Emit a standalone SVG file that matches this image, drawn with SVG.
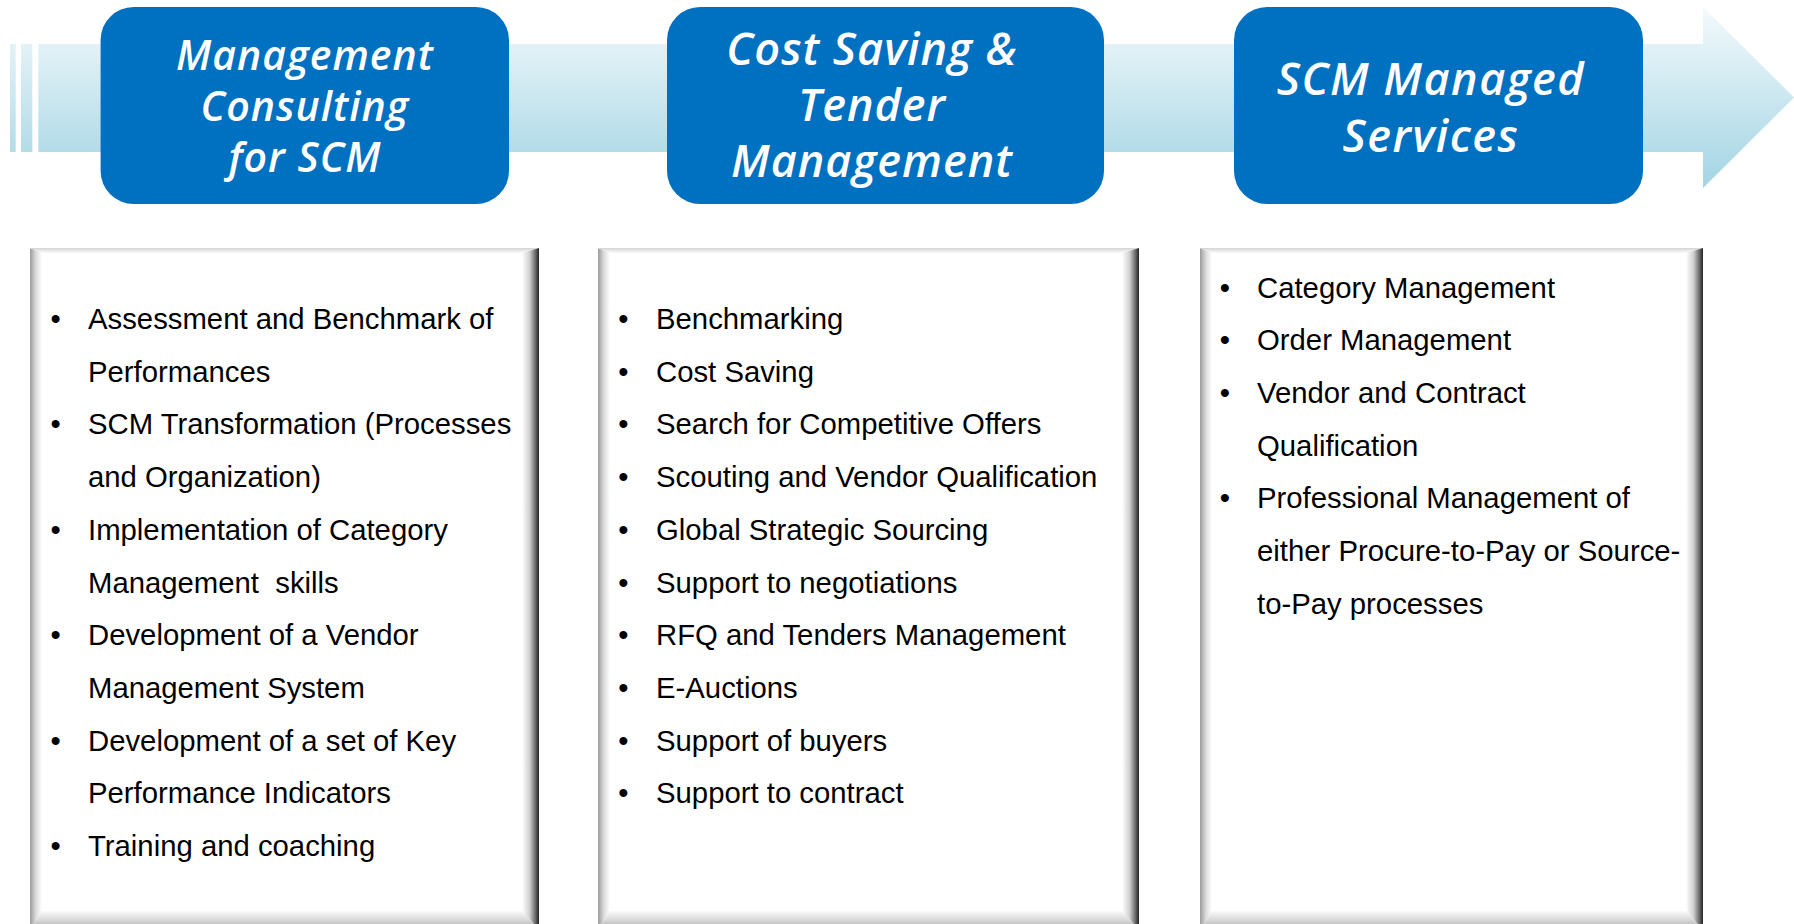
<svg xmlns="http://www.w3.org/2000/svg" width="1794" height="924" viewBox="0 0 1794 924">
<defs>
  <linearGradient id="arrowGrad" gradientUnits="userSpaceOnUse" x1="0" y1="7" x2="0" y2="188">
    <stop offset="0" stop-color="#f3fafc"/>
    <stop offset="1" stop-color="#a3d4e4"/>
  </linearGradient>
  <linearGradient id="bvLeft" x1="0" y1="0" x2="1" y2="0">
    <stop offset="0" stop-color="#9c9c9c"/>
    <stop offset="0.5" stop-color="#dcdcdc"/>
    <stop offset="1" stop-color="#ffffff"/>
  </linearGradient>
  <linearGradient id="bvTop" x1="0" y1="0" x2="0" y2="1">
    <stop offset="0" stop-color="#d4d4d4"/>
    <stop offset="1" stop-color="#fbfbfb"/>
  </linearGradient>
  <linearGradient id="bvRight" x1="0" y1="0" x2="1" y2="0">
    <stop offset="0" stop-color="#ffffff"/>
    <stop offset="0.45" stop-color="#cfcfcf"/>
    <stop offset="0.8" stop-color="#666666"/>
    <stop offset="1" stop-color="#222222"/>
  </linearGradient>
  <linearGradient id="bvBottom" x1="0" y1="0" x2="0" y2="1">
    <stop offset="0" stop-color="#fafafa"/>
    <stop offset="0.5" stop-color="#d6d6d6"/>
    <stop offset="1" stop-color="#a8a8a8"/>
  </linearGradient>
</defs>
<style>
  .node { fill: #0070c0; }
  .ntext { font-family: "Open Sans", "DejaVu Sans", sans-serif; font-style: italic; font-weight: 600; fill: #ffffff; text-anchor: middle; letter-spacing: 1px; }
  .n1 { font-size: 41px; }
  .n2 { font-size: 45px; }
  .body { fill: #ffffff; }
  .item { font-family: "Liberation Sans", Arial, sans-serif; font-size: 29.3px; fill: #000000; white-space: pre; }
  .bul { font-family: "Liberation Sans", Arial, sans-serif; font-size: 29.3px; fill: #000000; text-anchor: middle; }
</style>
<rect width="1794" height="924" fill="#ffffff"/>

<g id="flow-arrow">
  <rect x="10" y="44" width="5.7" height="108" fill="url(#arrowGrad)"/>
  <rect x="21" y="44" width="11.3" height="108" fill="url(#arrowGrad)"/>
  <polygon points="38.3,44 1703,44 1703,7 1794,97.5 1703,188 1703,152 38.3,152" fill="url(#arrowGrad)"/>
</g>

<g id="node-consulting">
  <rect class="node" x="100.6" y="7" width="408.4" height="197" rx="33" ry="33"/>
  <text class="ntext n1" x="305" y="70">Management</text>
  <text class="ntext n1" x="305" y="121">Consulting</text>
  <text class="ntext n1" x="305" y="172">for SCM</text>
</g>

<g id="node-cost-saving">
  <rect class="node" x="667" y="7" width="437" height="197" rx="33" ry="33"/>
  <text class="ntext n2" x="872" y="65">Cost Saving &amp;</text>
  <text class="ntext n2" x="872" y="121">Tender</text>
  <text class="ntext n2" x="872" y="177">Management</text>
</g>

<g id="node-managed">
  <rect class="node" x="1234" y="7" width="409" height="197" rx="33" ry="33"/>
  <text class="ntext n2" x="1431" y="95" style="letter-spacing:1.5px">SCM Managed</text>
  <text class="ntext n2" x="1431" y="152" style="letter-spacing:1.5px">Services</text>
</g>

<g id="list-consulting">
  <rect class="body" x="30" y="248" width="509" height="682"/>
  <polygon fill="url(#bvLeft)" points="30,248 42,253 42,911 30,930"/>
  <polygon fill="url(#bvTop)" points="30,248 539,248 522,253 42,253"/>
  <polygon fill="url(#bvRight)" points="522,253 539,248 539,930 522,911"/>
  <polygon fill="url(#bvBottom)" points="42,911 522,911 539,930 30,930"/>
  <text class="bul" x="55.6" y="329">•</text>
  <text class="item" x="88" y="329">Assessment and Benchmark of</text>
  <text class="item" x="88" y="381.7">Performances</text>
  <text class="bul" x="55.6" y="434.4">•</text>
  <text class="item" x="88" y="434.4">SCM Transformation (Processes</text>
  <text class="item" x="88" y="487.1">and Organization)</text>
  <text class="bul" x="55.6" y="539.8">•</text>
  <text class="item" x="88" y="539.8">Implementation of Category</text>
  <text class="item" x="88" y="592.5">Management  skills</text>
  <text class="bul" x="55.6" y="645.2">•</text>
  <text class="item" x="88" y="645.2">Development of a Vendor</text>
  <text class="item" x="88" y="697.9">Management System</text>
  <text class="bul" x="55.6" y="750.6">•</text>
  <text class="item" x="88" y="750.6">Development of a set of Key</text>
  <text class="item" x="88" y="803.3">Performance Indicators</text>
  <text class="bul" x="55.6" y="856">•</text>
  <text class="item" x="88" y="856">Training and coaching</text>
</g>

<g id="list-cost-saving">
  <rect class="body" x="598" y="248" width="541" height="682"/>
  <polygon fill="url(#bvLeft)" points="598,248 610,253 610,911 598,930"/>
  <polygon fill="url(#bvTop)" points="598,248 1139,248 1122,253 610,253"/>
  <polygon fill="url(#bvRight)" points="1122,253 1139,248 1139,930 1122,911"/>
  <polygon fill="url(#bvBottom)" points="610,911 1122,911 1139,930 598,930"/>
  <text class="bul" x="623.5" y="329">•</text>
  <text class="item" x="656" y="329">Benchmarking</text>
  <text class="bul" x="623.5" y="381.7">•</text>
  <text class="item" x="656" y="381.7">Cost Saving</text>
  <text class="bul" x="623.5" y="434.4">•</text>
  <text class="item" x="656" y="434.4">Search for Competitive Offers</text>
  <text class="bul" x="623.5" y="487.1">•</text>
  <text class="item" x="656" y="487.1">Scouting and Vendor Qualification</text>
  <text class="bul" x="623.5" y="539.8">•</text>
  <text class="item" x="656" y="539.8">Global Strategic Sourcing</text>
  <text class="bul" x="623.5" y="592.5">•</text>
  <text class="item" x="656" y="592.5">Support to negotiations</text>
  <text class="bul" x="623.5" y="645.2">•</text>
  <text class="item" x="656" y="645.2">RFQ and Tenders Management</text>
  <text class="bul" x="623.5" y="697.9">•</text>
  <text class="item" x="656" y="697.9">E-Auctions</text>
  <text class="bul" x="623.5" y="750.6">•</text>
  <text class="item" x="656" y="750.6">Support of buyers</text>
  <text class="bul" x="623.5" y="803.3">•</text>
  <text class="item" x="656" y="803.3">Support to contract</text>
</g>

<g id="list-managed">
  <rect class="body" x="1200" y="248" width="503" height="682"/>
  <polygon fill="url(#bvLeft)" points="1200,248 1212,253 1212,911 1200,930"/>
  <polygon fill="url(#bvTop)" points="1200,248 1703,248 1686,253 1212,253"/>
  <polygon fill="url(#bvRight)" points="1686,253 1703,248 1703,930 1686,911"/>
  <polygon fill="url(#bvBottom)" points="1212,911 1686,911 1703,930 1200,930"/>
  <text class="bul" x="1225" y="297.6">•</text>
  <text class="item" x="1257" y="297.6">Category Management</text>
  <text class="bul" x="1225" y="350.3">•</text>
  <text class="item" x="1257" y="350.3">Order Management</text>
  <text class="bul" x="1225" y="403">•</text>
  <text class="item" x="1257" y="403">Vendor and Contract</text>
  <text class="item" x="1257" y="455.7">Qualification</text>
  <text class="bul" x="1225" y="508.4">•</text>
  <text class="item" x="1257" y="508.4">Professional Management of</text>
  <text class="item" x="1257" y="561.1">either Procure-to-Pay or Source-</text>
  <text class="item" x="1257" y="613.8">to-Pay processes</text>
</g>
</svg>
